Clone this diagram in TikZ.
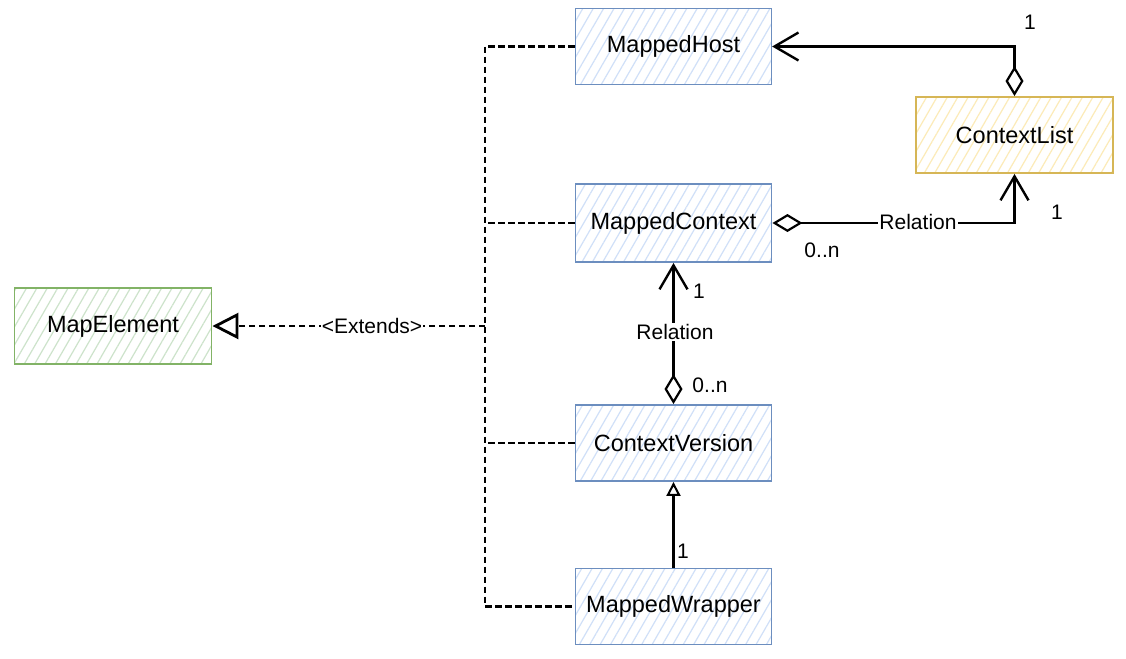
\documentclass[tikz,border=0pt]{standalone}
\usepackage{fontspec}
\setmainfont{Liberation Sans}
\usetikzlibrary{arrows.meta,patterns.meta}
\definecolor{bstroke}{HTML}{6C8EBF}
\definecolor{bfill}{HTML}{D0E0F8}
\definecolor{ystroke}{HTML}{D6B656}
\definecolor{yfill}{HTML}{FCEBB8}
\definecolor{gstroke}{HTML}{82B366}
\definecolor{gfill}{HTML}{CDE3CB}
\tikzset{
  box/.style={draw, line width=1.9pt, minimum width=196pt, minimum height=76pt, inner sep=0pt,
    font=\fontsize{23.5}{28}\selectfont,
    pattern={Lines[angle=60,distance=9pt,line width=1.2pt]}},
  bluebox/.style={box, draw=bstroke, pattern color=bfill},
  yellowbox/.style={box, draw=ystroke, pattern color=yfill},
  greenbox/.style={box, draw=gstroke, pattern color=gfill},
  lbl/.style={font=\fontsize{21}{25}\selectfont, inner sep=1pt},
  wlbl/.style={lbl, fill=white},
  assoc/.style={line width=2.4pt, {Diamond[open,length=30pt,width=18pt,line width=2.2pt]}-{Straight Barb[length=24pt,width=28pt,line width=2.4pt]}},
  inherit/.style={line width=2.6pt, -{Triangle[open,length=14pt,width=14pt,line width=2pt]}},
  ext/.style={line width=2.2pt, dash pattern=on 6.5pt off 3.5pt},
  exttip/.style={ext, line width=2.9pt, -{Triangle[open,length=26pt,width=26pt,line width=2.8pt]}}
}
\begin{document}
\begin{tikzpicture}[x=1pt,y=-1pt]
\useasboundingbox (0,0) rectangle (1126,658);
\fill[white] (0,0) rectangle (1126,658);
\node[bluebox] (mh) at (673.5,46.5) {MappedHost};
\node[yellowbox, minimum width=197pt] (cl) at (1014.5,135) {ContextList};
\node[bluebox, minimum height=78pt] (mc) at (673.5,223) {MappedContext};
\node[greenbox, minimum width=197pt] (me) at (113,326) {MapElement};
\node[bluebox] (cv) at (673.5,443) {ContextVersion};
\node[bluebox] (mw) at (673.5,606.5) {MappedWrapper};
\coordinate (trunk) at (485,326);
% extends lines
\draw[ext] (mh.west) -- (mh.west -| trunk) -- (mw.west -| trunk) -- (mw.west);
\draw[ext] (mc.west) -- (mc.west -| trunk);
\draw[ext] (cv.west) -- (cv.west -| trunk);
\draw[exttip] (trunk) -- (me.east);
\node[wlbl] (extl) at (372,326) {<Extends>};
% associations
\draw[assoc] (cl.north) |- (mh.east);
\node[lbl] (l1) at (1030,22) {1};
\draw[assoc] (mc.east) -| (cl.south);
\node[wlbl] (rel1) at (918,222) {Relation};
\node[lbl] (l2) at (822,250) {0..n};
\node[lbl] (l3) at (1057,212) {1};
\draw[assoc] (cv.north) -- (mc.south);
\node[wlbl] (rel2) at (675,332) {Relation};
\node[lbl] (l4) at (699,291) {1};
\node[lbl] (l5) at (710,385) {0..n};
\draw[inherit] (mw.north) -- (cv.south);
\node[lbl] (l6) at (683,551) {1};
\end{tikzpicture}
\end{document}
